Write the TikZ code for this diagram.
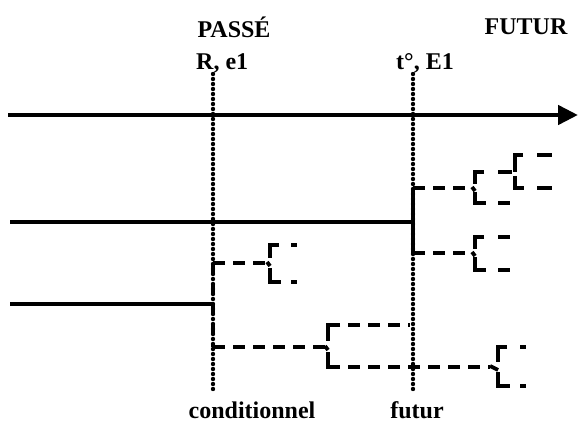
\documentclass[tikz,border=0pt]{standalone}
\usepackage{fontspec}
\setmainfont{Liberation Serif}
\usetikzlibrary{arrows.meta}
\begin{document}
\begin{tikzpicture}[x=1pt,y=-1pt,
  lbl/.style={font=\fontsize{24}{26}\selectfont\bfseries, inner sep=0pt},
  axis/.style={line width=4.6pt, -{Triangle[length=20pt,width=19pt]}},
  solidline/.style={line width=4pt},
  dotline/.style={line width=4.4pt, line cap=round, dash pattern=on 0pt off 5pt},
  dsh/.style={line width=3.8pt, dash pattern=on 12pt off 8pt},
  seg/.style={line width=3.8pt},
  dotmark/.style={line width=3.8pt, line cap=rect}]
\useasboundingbox (0,0) rectangle (578,422);

% headings and labels
\node[lbl] (passe) at (234,27) {PASSÉ};
\node[lbl] (futurH) at (526,27) {FUTUR};
\node[lbl, anchor=west] (Re) at (196,63) {R, e1};
\node[lbl, anchor=west] (tE) at (396,63) {t°, E1};
\node[lbl] (cond) at (252,410) {conditionnel};
\node[lbl] (fut) at (417,410) {futur};

% time axis
\coordinate (axL) at (8,115);
\coordinate (axR) at (578,115);
\draw[axis] (axL) -- (axR);

% reference points (dotted verticals)
\coordinate (Rtop) at (213,74);  \coordinate (Rbot) at (213,393);
\coordinate (Ttop) at (413,74);  \coordinate (Tbot) at (413,392);
\draw[dotline] (Rtop) -- (Rbot);
\draw[dotline] (Ttop) -- (Tbot);

% solid lines
\coordinate (s1L) at (10,222); \coordinate (s1R) at (413,222);
\coordinate (s2L) at (10,304); \coordinate (s2R) at (214,304);
\draw[solidline] (s1L) -- (s1R);
\draw[solidline] (s2L) -- (s2R);

% conditionnel stem
\coordinate (cA) at (213,263); \coordinate (cB) at (213,347);
\draw[dsh] (cA) -- (cB);

% upper conditionnel fork
\coordinate (a1) at (268,263);
\draw[dsh] (cA) -- (a1);
\draw[seg] (279,245) -- (270,245) -- (270,258);
\draw[seg] (270,268) -- (270,282) -- (281,282);
\draw[seg] (267,262) -- (270,266);
\draw[dotmark] (293,245) -- (295,245);
\draw[dotmark] (293,282) -- (295,282);

% lower conditionnel fork
\coordinate (b1) at (326,347);
\draw[dsh] (cB) -- (b1);
\draw[seg] (340,325) -- (328,325) -- (328,341);
\draw[seg] (328,352) -- (328,367) -- (340,367);
\draw[seg] (325,346) -- (328,350);
\coordinate (b2) at (410,325);
\draw[dsh, dash phase=-8pt] (340,325) -- (b2);
\coordinate (b3) at (490,367);
\draw[dsh, dash phase=-8pt] (340,367) -- (b3);
% final fork on the lower arm
\draw[seg] (507,347) -- (498,347) -- (498,362);
\draw[seg] (498,372) -- (498,386) -- (510,386);
\draw[seg] (490,366) -- (498,370);
\draw[dotmark] (522,347) -- (524,347);
\draw[dotmark] (522,386) -- (524,386);

% futur stem
\coordinate (fA) at (413,188); \coordinate (fB) at (413,253);
\draw[seg] (fA) -- (fB);

% upper futur fork
\coordinate (f1) at (472,188);
\draw[dsh] (fA) -- (f1);
\draw[seg] (484,172) -- (475,172) -- (475,184);
\draw[seg] (475,192) -- (475,203) -- (486,203);
\draw[seg] (472,187) -- (475,191);
\draw[seg] (498,203) -- (510,203);
\draw[seg] (498,172) -- (512,172);
\draw[seg] (523,155) -- (515,155) -- (515,172);
\draw[seg] (515,176) -- (515,188) -- (524,188);
\draw[seg] (537,155) -- (552,155);
\draw[seg] (537,188) -- (552,188);

% lower futur fork
\coordinate (f2) at (472,253);
\draw[dsh] (fB) -- (f2);
\draw[seg] (484,237) -- (475,237) -- (475,249);
\draw[seg] (475,257) -- (475,270) -- (486,270);
\draw[seg] (472,252) -- (475,256);
\draw[seg] (498,237) -- (510,237);
\draw[seg] (498,270) -- (510,270);
\end{tikzpicture}
\end{document}
